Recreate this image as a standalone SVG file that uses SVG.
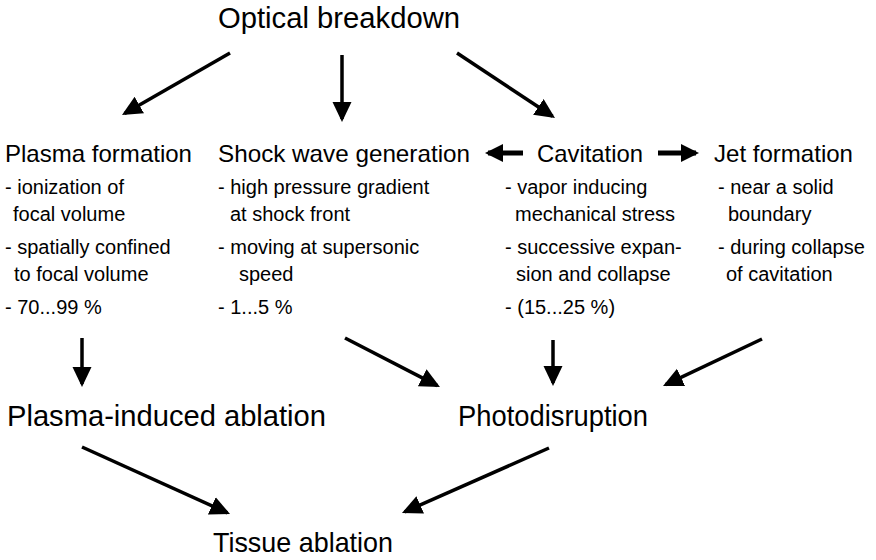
<svg xmlns="http://www.w3.org/2000/svg" width="876" height="560" viewBox="0 0 876 560">
<defs>
<style>
text{font-family:"Liberation Sans",Arial,sans-serif;fill:#000}
.big{font-size:29px}
.hd{font-size:24px}
.b{font-size:20px}
.c{stroke:#000;stroke-width:3.5;fill:none;marker-end:url(#ah)}
.h{stroke:#000;stroke-width:5;fill:none;marker-end:url(#ah2)}
</style>
<marker id="ah" markerUnits="userSpaceOnUse" markerWidth="21" markerHeight="20" viewBox="0 0 21 20" refX="17" refY="9.5" orient="auto">
<path d="M0,0 L20,9.5 L0,19 z" fill="#000"/>
</marker>
<marker id="ah2" markerUnits="userSpaceOnUse" markerWidth="20" markerHeight="20" viewBox="0 0 20 20" refX="15" refY="9" orient="auto">
<path d="M0,0 L18,9 L0,18 z" fill="#000"/>
</marker>
</defs>
<rect width="876" height="560" fill="#fff"/>
<g id="optical"><text class="big" x="218" y="28" textLength="242" lengthAdjust="spacingAndGlyphs">Optical breakdown</text></g>
<g id="plasma">
<text class="hd" x="5" y="162" textLength="187" lengthAdjust="spacingAndGlyphs">Plasma formation</text>
<text class="b" x="5" y="194">- ionization of</text>
<text class="b" x="13" y="221">focal volume</text>
<text class="b" x="5" y="254">- spatially confined</text>
<text class="b" x="14" y="281">to focal volume</text>
<text class="b" x="5" y="314">- 70...99 %</text>
</g>
<g id="shock">
<text class="hd" x="218" y="162" textLength="252" lengthAdjust="spacingAndGlyphs">Shock wave generation</text>
<text class="b" x="218" y="194">- high pressure gradient</text>
<text class="b" x="230" y="221">at shock front</text>
<text class="b" x="218" y="254">- moving at supersonic</text>
<text class="b" x="239" y="281">speed</text>
<text class="b" x="218" y="314">- 1...5 %</text>
</g>
<g id="cavitation">
<text class="hd" x="537" y="162" textLength="106" lengthAdjust="spacingAndGlyphs">Cavitation</text>
<text class="b" x="505" y="194">- vapor inducing</text>
<text class="b" x="515" y="221">mechanical stress</text>
<text class="b" x="505" y="254">- successive expan-</text>
<text class="b" x="516" y="281">sion and collapse</text>
<text class="b" x="505" y="314">- (15...25 %)</text>
</g>
<g id="jet">
<text class="hd" x="714" y="162" textLength="139" lengthAdjust="spacingAndGlyphs">Jet formation</text>
<text class="b" x="718" y="194">- near a solid</text>
<text class="b" x="728" y="221">boundary</text>
<text class="b" x="718" y="254">- during collapse</text>
<text class="b" x="726" y="281">of cavitation</text>
</g>
<g id="plasma-ablation"><text class="big" x="7" y="426" textLength="319" lengthAdjust="spacingAndGlyphs">Plasma-induced ablation</text></g>
<g id="photodisruption"><text class="big" x="458" y="426" textLength="190" lengthAdjust="spacingAndGlyphs">Photodisruption</text></g>
<g id="tissue"><text x="213" y="552" font-size="28" textLength="180" lengthAdjust="spacingAndGlyphs">Tissue ablation</text></g>
<g id="connectors">
<line class="c" x1="230" y1="53" x2="124.6" y2="113.5"/>
<line class="c" x1="342" y1="55" x2="342" y2="119"/>
<line class="c" x1="457" y1="53" x2="552.5" y2="116.3"/>
<line class="h" x1="523" y1="153" x2="488" y2="153"/>
<line class="h" x1="658" y1="153" x2="696" y2="153"/>
<line class="c" x1="82" y1="338" x2="82" y2="384"/>
<line class="c" x1="345" y1="338" x2="437.3" y2="385.6"/>
<line class="c" x1="553" y1="340" x2="553" y2="383"/>
<line class="c" x1="762" y1="339" x2="665.7" y2="384.7"/>
<line class="c" x1="82" y1="447" x2="227.3" y2="512.8"/>
<line class="c" x1="549" y1="448" x2="404.7" y2="511.8"/>
</g>
</svg>
